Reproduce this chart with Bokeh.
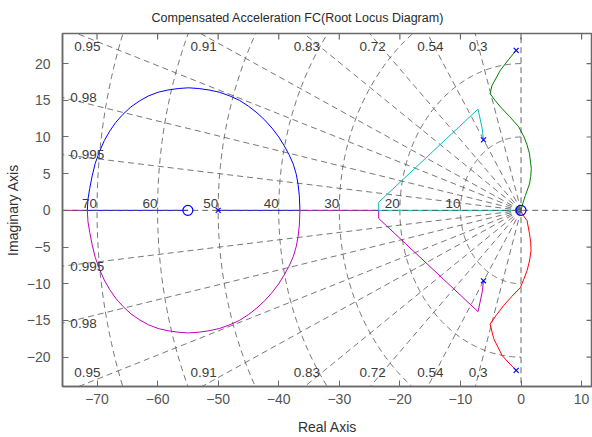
from bokeh.plotting import figure
from bokeh.models import Range1d, FixedTicker
from bokeh.core.properties import value
from bokeh.embed import file_html
from bokeh.resources import INLINE
import numpy as np

# ---------------- data ----------------
title_text = "Compensated Acceleration FC(Root Locus Diagram)"
x_ticks = [-70, -60, -50, -40, -30, -20, -10, 0, 10]
y_ticks = [-20, -15, -10, -5, 0, 5, 10, 15, 20]

pole_re = [-50, -6.2, -6.2, -0.8, -0.8]
pole_im = [0, 9.6, -9.6, 21.8, -21.8]
zero_re = [-55, 0]
zero_im = [0, 0]

# branch 1 (blue): pole -50 -> breakaway -> upper arc -> break-in -> zero -55
blue_re = [-50, -36.5, -36.6, -36.8, -37.1, -37.6, -38.3, -39.1, -40.0, -41.1, -42.3, -43.6,
           -45.0, -46.5, -48.1, -49.8, -51.5, -53.2, -54.9, -56.6, -58.3, -59.9, -61.5,
           -63.0, -64.4, -65.7, -66.9, -67.9, -68.8, -69.6, -70.3, -70.8, -71.2, -71.5,
           -71.6, -55]
blue_im = [0, 0, 2.0, 3.5, 4.9, 6.3, 7.6, 8.8, 10.0, 11.2, 12.3, 13.3,
           14.2, 15.0, 15.6, 16.1, 16.4, 16.6, 16.7, 16.6, 16.4, 16.1, 15.6,
           14.9, 14.1, 13.1, 12.0, 10.8, 9.5, 8.0, 6.4, 4.7, 3.0, 1.5,
           0, 0]
# branch 2 (magenta): lower complex pole -> real axis -> lower arc -> -inf
mag_re = [-6.2, -6.4, -7.1, -23.5, -23.5, -36.5, -36.6, -36.8, -37.1, -37.6, -38.3, -39.1,
          -40.0, -41.1, -42.3, -43.6, -45.0, -46.5, -48.1, -49.8, -51.5, -53.2, -54.9,
          -56.6, -58.3, -59.9, -61.5, -63.0, -64.4, -65.7, -66.9, -67.9, -68.8, -69.6,
          -70.3, -70.8, -71.2, -71.5, -71.6, -80]
mag_im = [-9.6, -11.1, -13.8, -1.1, 0, 0, -2.0, -3.5, -4.9, -6.3, -7.6, -8.8,
          -10.0, -11.2, -12.3, -13.3, -14.2, -15.0, -15.6, -16.1, -16.4, -16.6, -16.7,
          -16.6, -16.4, -16.1, -15.6, -14.9, -14.1, -13.1, -12.0, -10.8, -9.5, -8.0,
          -6.4, -4.7, -3.0, -1.5, 0, 0]
# branch 3 (cyan): upper complex pole -> real axis -> zero at origin
cyan_re = [-6.2, -6.4, -7.1, -23.5, -23.5, 0]
cyan_im = [9.6, 11.1, 13.8, 1.1, 0, 0]
# branch 4 (green): upper far pole -> origin
green_re = [-0.8, -2.1, -3.4, -4.8, -5.1, -4.3, -3.4, -1.9, -0.4, 0.5, 1.0, 1.4, 1.7, 1.6, 1.4,
            0.7, 0.2, 0]
green_im = [21.8, 20.5, 19.1, 17.0, 15.9, 15.0, 14.1, 12.8, 11.4, 10.0, 8.9, 7.7, 5.7, 4.6, 3.6,
            2.0, 0.7, 0]
# branch 5 (red): lower far pole -> origin
red_re = [-0.8, -2.0, -3.1, -4.5, -5.1, -4.1, -2.9, -1.5, -0.1, 0.5, 1.0, 1.4, 1.65, 1.6, 1.4,
          1.0, 0.2, 0]
red_im = [-21.8, -20.8, -19.8, -17.5, -15.5, -14.3, -13.0, -11.7, -10.5, -9.3, -8.2, -6.9,
          -5.5, -4.3, -3.2, -1.4, -0.5, 0]

# grid: damping ratios and natural frequencies
zetas = [0.3, 0.54, 0.72, 0.83, 0.91, 0.95, 0.98, 0.995]
zeta_labels = ["0.3", "0.54", "0.72", "0.83", "0.91", "0.95", "0.98", "0.995"]
wns = [10, 20, 30, 40, 50, 60, 70]
wn_labels = ["10", "20", "30", "40", "50", "60", "70"]

XMIN, XMAX, YMIN, YMAX = -75.7, 11.8, -24.0, 24.1

# ---------------- figure ----------------
p = figure(width=592, height=437, x_range=Range1d(XMIN, XMAX), y_range=Range1d(YMIN, YMAX),
           output_backend="svg", toolbar_location=None,
           min_border_left=62, min_border_right=0, min_border_top=33, min_border_bottom=51,
           title=title_text)
AX_COL = "#6a6a6a"
p.outline_line_color = AX_COL
p.outline_line_width = 1.5
p.xgrid.visible = False
p.ygrid.visible = False
p.background_fill_color = "white"
p.border_fill_color = "white"

FONT = "Liberation Sans"
LBL_COL = "#555555"

p.title.text_font = FONT
p.title.text_font_size = "12.5px"
p.title.text_font_style = "normal"
p.title.text_color = "#2a2a2a"
p.title.align = "left"
p.title.offset = 89
p.title.standoff = 17

for ax in (p.xaxis[0], p.yaxis[0]):
    ax.axis_line_color = AX_COL
    ax.axis_line_width = 1.5
    ax.major_tick_line_color = AX_COL
    ax.major_tick_in = 6
    ax.major_tick_out = 0
    ax.minor_tick_line_color = None
    ax.major_label_text_font = FONT
    ax.major_label_text_font_size = "14px"
    ax.major_label_text_color = LBL_COL
    ax.axis_label_text_font = FONT
    ax.axis_label_text_font_size = "14px"
    ax.axis_label_text_font_style = "normal"
    ax.axis_label_text_color = "#333333"

p.xaxis[0].ticker = FixedTicker(ticks=x_ticks)
p.yaxis[0].ticker = FixedTicker(ticks=y_ticks)
p.xaxis[0].axis_label = "Real Axis"
p.yaxis[0].axis_label = "Imaginary Axis"
p.xaxis[0].major_label_standoff = 7
p.xaxis[0].axis_label_standoff = 12
p.yaxis[0].major_label_standoff = 12
p.yaxis[0].axis_label_standoff = 3

GRID_COL = "#555555"
DASH = "6 4"

# inward ticks on top and right edges of the box
tick_dx = 6 / 6.06
tick_dy = 6 / 7.33
p.segment(x0=x_ticks, y0=[YMAX] * len(x_ticks), x1=x_ticks, y1=[YMAX - tick_dy] * len(x_ticks),
          line_color=AX_COL, line_width=1.2)
p.segment(x0=[XMAX] * len(y_ticks), y0=y_ticks, x1=[XMAX - tick_dx] * len(y_ticks), y1=y_ticks,
          line_color=AX_COL, line_width=1.2)

# damping-ratio rays
R = 200.0
ray_xs, ray_ys = [], []
for z in zetas:
    th = np.arccos(z)
    for s in (1, -1):
        ray_xs.append([0, -R * np.cos(th)])
        ray_ys.append([0, s * R * np.sin(th)])
p.multi_line(ray_xs, ray_ys, line_color=GRID_COL, line_width=0.8, line_dash=DASH)

# natural-frequency semicircles (left half plane)
t = np.linspace(np.pi / 2, 3 * np.pi / 2, 181)
circ_xs = [list(w * np.cos(t)) for w in wns]
circ_ys = [list(w * np.sin(t)) for w in wns]
p.multi_line(circ_xs, circ_ys, line_color=GRID_COL, line_width=0.8, line_dash=DASH)

# locus branches
LW = 1.0
p.line(blue_re, blue_im, line_color="#0000ff", line_width=LW)
p.line(mag_re, mag_im, line_color="#bf00bf", line_width=LW)
p.line(cyan_re, cyan_im, line_color="#00bfbf", line_width=LW)
p.line(green_re, green_im, line_color="#008000", line_width=LW)
p.line(red_re, red_im, line_color="#ff0000", line_width=LW)

# axes lines (dashed) over the locus
p.line([XMIN - 5, XMAX + 5], [0, 0], line_color=GRID_COL, line_width=0.9, line_dash=DASH)
p.line([0, 0], [YMIN - 5, YMAX + 5], line_color=GRID_COL, line_width=0.9, line_dash=DASH)

# pole / zero markers
p.scatter(pole_re, pole_im, marker="x", size=7, line_color="#0000ff", line_width=1.2)
p.scatter(zero_re, zero_im, marker="circle", size=10, fill_color=None,
          line_color="#0000ff", line_width=1.2)

# damping-ratio labels at the box edges
top_x, top_y, top_t = [], [], []
left_x, left_y, left_t = [], [], []
for z, lab in zip(zetas, zeta_labels):
    th = np.arccos(z)
    xt = -(YMAX / np.tan(th))
    if xt > XMIN:
        cx = max(xt + 0.5, XMIN + 4.1)
        top_x += [cx, cx]
        top_y += [22.3, -22.1]
        top_t += [lab, lab]
    else:
        yl = -XMIN * np.tan(th)
        left_x += [XMIN + 1.3, XMIN + 1.3]
        left_y += [yl, -yl]
        left_t += [lab, lab]
p.text(top_x, top_y, text=top_t, text_font=value(FONT), text_font_size="13.5px",
       text_color="#3c3c3c", text_align="center", text_baseline="middle")
p.text(left_x, left_y, text=left_t, text_font=value(FONT), text_font_size="13.5px",
       text_color="#3c3c3c", text_align="left", text_baseline="middle")

# natural-frequency labels on the real axis
p.text([-w for w in wns], [0] * len(wns), text=wn_labels, text_font=value(FONT),
       text_font_size="13.5px", text_color="#3c3c3c", text_align="right",
       text_baseline="bottom", y_offset=-2)

open("out.html", "w").write(file_html(p, INLINE))
